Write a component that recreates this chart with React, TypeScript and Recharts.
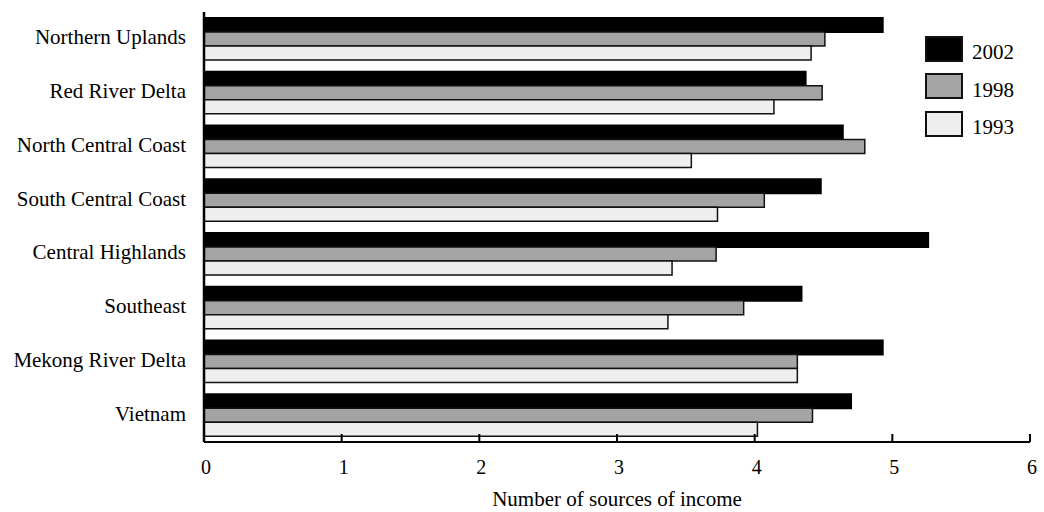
import React from 'react';
import { BarChart, Bar, XAxis, YAxis, Legend } from 'recharts';

const regions = [
  'Northern Uplands',
  'Red River Delta',
  'North Central Coast',
  'South Central Coast',
  'Central Highlands',
  'Southeast',
  'Mekong River Delta',
  'Vietnam',
];
const y2002 = [4.93, 4.37, 4.64, 4.48, 5.26, 4.34, 4.93, 4.7];
const y1998 = [4.51, 4.49, 4.8, 4.07, 3.72, 3.92, 4.31, 4.42];
const y1993 = [4.41, 4.14, 3.54, 3.73, 3.4, 3.37, 4.31, 4.02];
const xTicks = [0, 1, 2, 3, 4, 5, 6];
const seriesOrder = ['2002', '1998', '1993'];

const data = regions.map((region, i) => ({
  region,
  y2002: y2002[i],
  y1998: y1998[i],
  y1993: y1993[i],
}));

const FONT = '"Liberation Serif", "Times New Roman", serif';

// ticks point up into the plot, label sits below the axis
const XTick = (props: any) => {
  const { x, y, payload } = props;
  return (
    <g>
      <line x1={x} x2={x} y1={y - 8} y2={y} stroke="#000" strokeWidth={2} />
      <text x={x + 2} y={y + 32} textAnchor="middle" fontFamily={FONT} fontSize={20} fill="#000">
        {payload.value}
      </text>
    </g>
  );
};

const LegendBox = (props: any) => {
  const items = [...(props.payload || [])].sort(
    (a: any, b: any) => seriesOrder.indexOf(a.value) - seriesOrder.indexOf(b.value)
  );
  return (
    <div style={{ fontFamily: FONT }}>
      {items.map((p: any) => (
        <div key={p.value} style={{ display: 'flex', alignItems: 'center', height: 37.5 }}>
          <div
            style={{
              width: 34,
              height: 22,
              background: p.color,
              border: '2px solid #111',
            }}
          />
          <span style={{ marginLeft: 9, marginTop: 8, fontSize: 21, color: '#000' }}>{p.value}</span>
        </div>
      ))}
    </div>
  );
};

const App: React.FC = () => {
  return (
    <div style={{ position: 'absolute', left: 0, top: 0, width: 1044, height: 512, background: '#fff' }}>
      <BarChart
        width={1044}
        height={512}
        data={data}
        layout="vertical"
        margin={{ top: 12, right: 14, bottom: 10, left: 0 }}
        barGap={0}
        barSize={14}
      >
        <XAxis
          type="number"
          domain={[0, 6]}
          ticks={xTicks}
          interval={0}
          height={60}
          tickSize={0}
          tickMargin={0}
          tickLine={false}
          axisLine={{ stroke: '#000', strokeWidth: 2 }}
          tick={<XTick />}
          label={{
            value: 'Number of sources of income',
            position: 'insideBottom',
            offset: -4,
            fill: '#000',
            fontSize: 21,
            fontFamily: FONT,
          }}
        />
        <YAxis
          type="category"
          dataKey="region"
          width={204}
          tickLine={false}
          tickMargin={12}
          axisLine={{ stroke: '#000', strokeWidth: 2.5 }}
          tick={{ fill: '#000', fontSize: 21, fontFamily: FONT, dy: -2 }}
          interval={0}
        />
        <Legend
          layout="horizontal"
          verticalAlign="middle"
          align="center"
          content={<LegendBox />}
          wrapperStyle={{ position: 'absolute', left: 925, top: 30, width: 100 }}
        />
        <Bar dataKey="y2002" name="2002" fill="#000" stroke="#000" strokeWidth={2} isAnimationActive={false} />
        <Bar dataKey="y1998" name="1998" fill="#a4a4a4" stroke="#111" strokeWidth={1.5} isAnimationActive={false} />
        <Bar dataKey="y1993" name="1993" fill="#eeeeee" stroke="#111" strokeWidth={1.5} isAnimationActive={false} />
      </BarChart>
    </div>
  );
};

export default App;
